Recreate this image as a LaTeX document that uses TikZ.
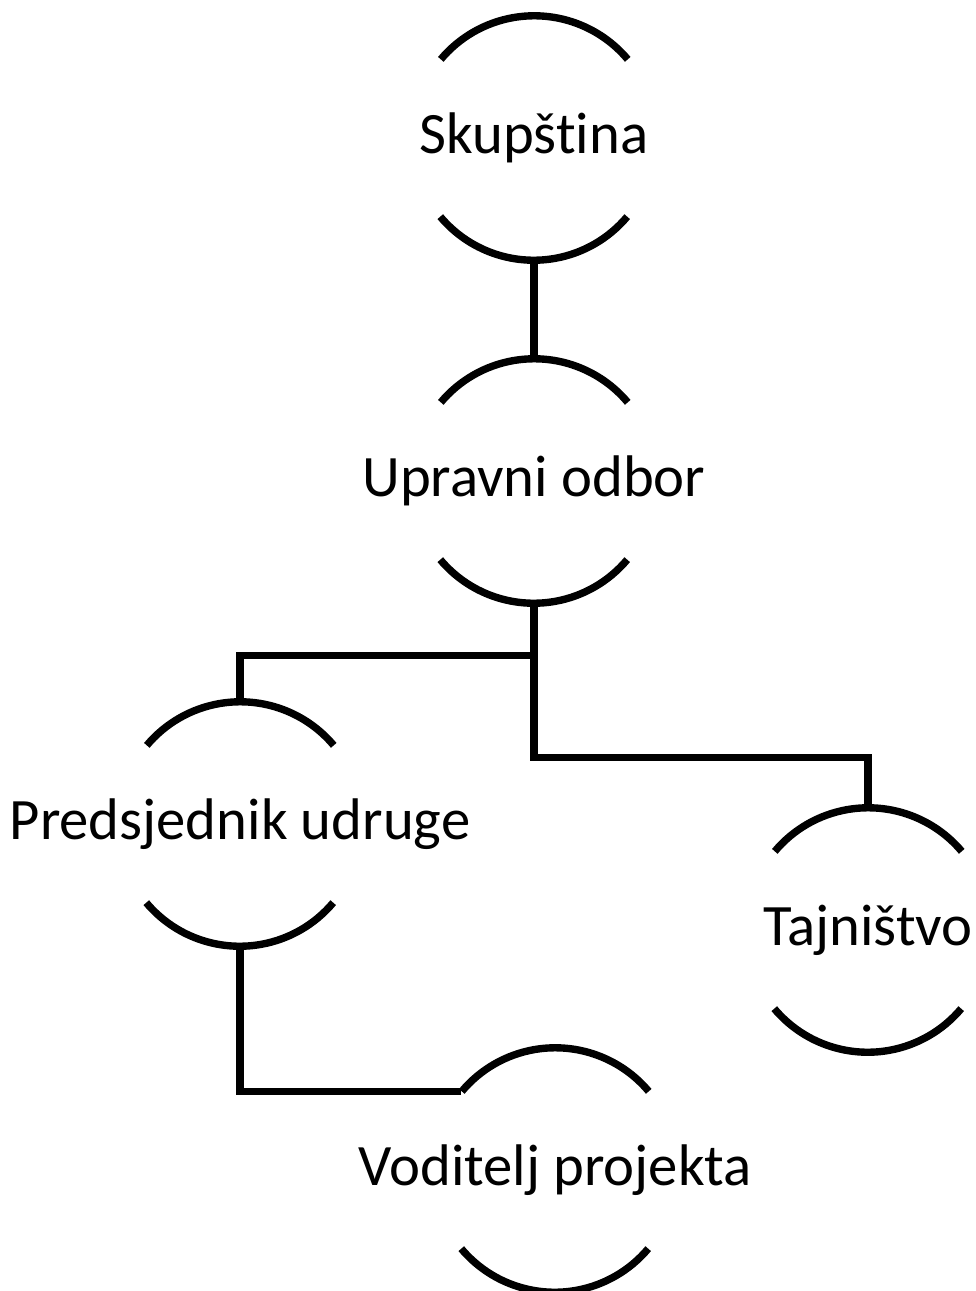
\documentclass[tikz,border=0pt]{standalone}
\usepackage{fontspec}
\setmainfont[Ligatures={NoCommon,NoContextual}]{Carlito}
\usetikzlibrary{positioning}

\tikzset{
  unit/.style={circle, minimum size=4.88cm, inner sep=0pt, font=\fontsize{33.4}{40}\selectfont},
  link/.style={line width=4.2pt, black}
}

\begin{document}
\begin{tikzpicture}
\def\rr{2.44}
\useasboundingbox (0,0) rectangle (19.52,-25.82);
%nodes
\node[unit] (sk) at (10.68, -2.76) {\makebox[0pt]{Skupština}};
\node[unit] (uo) at (10.68, -9.62) {\makebox[0pt]{Upravni odbor}};
\node[unit] (pu) at (4.80, -16.48) {\makebox[0pt]{Predsjednik udruge}};
\node[unit] (tj) at (17.36, -18.60) {\makebox[0pt]{Tajništvo}};
\node[unit] (vp) at (11.10, -23.40) {\makebox[0pt]{Voditelj projekta}};
%arcs
\foreach \n in {sk, uo, pu, tj, vp} {
  \draw[link] (\n.40) arc[start angle=40, end angle=140, radius=\rr];
  \draw[link] (\n.220) arc[start angle=220, end angle=320, radius=\rr];
}
%connectors
\draw[link] (sk.south) -- (uo.north);
\draw[link] (uo.south) -- ++(0,-1.04) -| (pu.north);
\draw[link] (uo.south) -- ++(0,-3.08) -| (tj.north);
\draw[link] (pu.south) |- (vp.140);
\end{tikzpicture}
\end{document}
